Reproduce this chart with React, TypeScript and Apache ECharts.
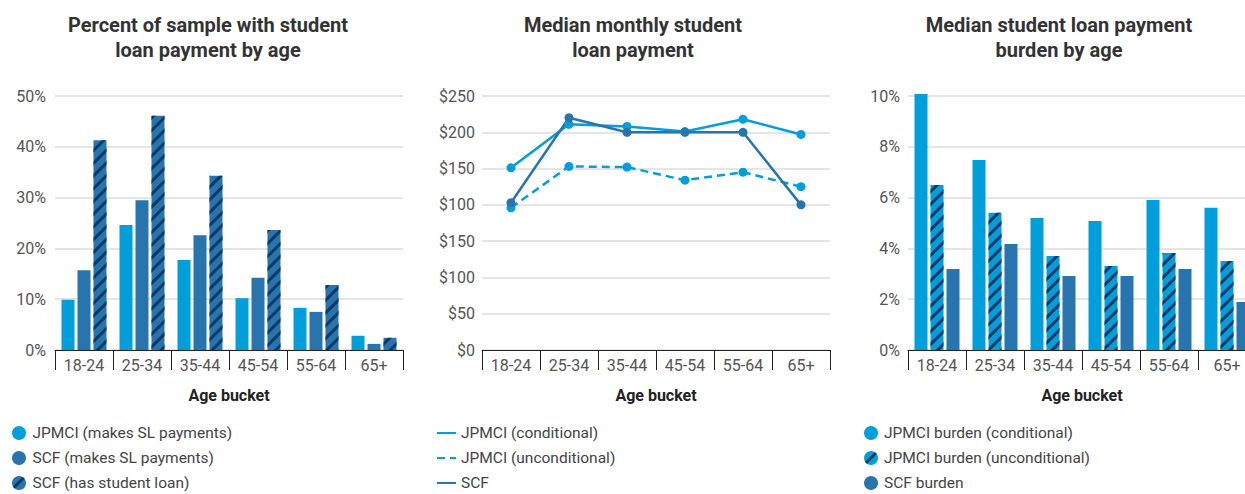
import React, { useEffect, useRef } from "react";
import * as echarts from "echarts";

const categories = ["18-24", "25-34", "35-44", "45-54", "55-64", "65+"];

// Chart 1: percent of sample with student loan payment by age (%)
const jpmciMakes = [9.9, 24.6, 17.7, 10.2, 8.3, 2.8];
const scfMakes = [15.7, 29.5, 22.6, 14.2, 7.5, 1.2];
const scfHas = [41.3, 46.1, 34.3, 23.6, 12.8, 2.4];

// Chart 2: median monthly student loan payment ($, as labelled on the broken axis)
const jpmciConditional = [151, 211, 208, 201, 218, 197];
const jpmciUnconditional = [96, 153, 152, 134, 145, 125];
const scfPayment = [103, 220, 200, 200, 200, 100];
const paymentTickLabels = ["$0", "$50", "$100", "$150", "$100", "$150", "$200", "$250"];
const axisBreakOffset = 100; // the reference axis repeats $100/$150 above the break

// Chart 3: median student loan payment burden by age (%)
const burdenConditional = [10.08, 7.48, 5.2, 5.08, 5.91, 5.6];
const burdenUnconditional = [6.5, 5.4, 3.7, 3.31, 3.82, 3.5];
const scfBurden = [3.19, 4.17, 2.91, 2.91, 3.19, 1.89];

const titles = [
  "Percent of sample with student\nloan payment by age",
  "Median monthly student\nloan payment",
  "Median student loan payment\nburden by age",
];

const LIGHT = "#009fdb";
const DARK = "#2774ae";
const NAVY = "#0b3a66";
const FONT = "Roboto, 'Liberation Sans', sans-serif";

const stripe = {
  symbol: "rect",
  symbolSize: 1,
  color: NAVY,
  dashArrayX: [1, 0],
  dashArrayY: [2.5, 5.5],
  rotation: -Math.PI / 4,
};

export default function App() {
  const ref = useRef<HTMLDivElement>(null);

  useEffect(() => {
    if (!ref.current) return;
    const chart = echarts.init(ref.current, undefined, { renderer: "svg" });

    const gridLefts = [55, 482, 908];
    const grids = gridLefts.map((l) => ({
      left: l, top: 96, width: 348, height: 254, outerBoundsMode: "none", containLabel: false,
    }));

    const xAxes = gridLefts.map((_, i) => ({
      type: "category",
      gridIndex: i,
      data: categories,
      boundaryGap: true,
      axisLine: { show: true, lineStyle: { color: "#222", width: 1 } },
      axisTick: { show: true, length: 20, lineStyle: { color: "#222" } },
      axisLabel: { fontSize: 16, color: "#555", margin: 7, fontFamily: FONT },
      name: "Age bucket",
      nameLocation: "middle",
      nameGap: 37,
      nameTextStyle: { fontSize: 16, fontWeight: "bold", color: "#222", fontFamily: FONT },
    }));

    const ySplit = { show: true, lineStyle: { color: "#dcdcdc", width: 1.5 } };
    const yLabel = { fontSize: 16, color: "#555", fontFamily: FONT };
    const yAxes = [
      {
        type: "value", gridIndex: 0, min: 0, max: 50, interval: 10,
        axisLine: { show: false }, axisTick: { show: false }, splitLine: ySplit,
        axisLabel: { ...yLabel, margin: 9, formatter: "{value}%" },
      },
      {
        type: "value", gridIndex: 1, min: 0, max: 350, interval: 50,
        axisLine: { show: false }, axisTick: { show: false }, splitLine: ySplit,
        axisLabel: { ...yLabel, margin: 7, formatter: (v: number) => paymentTickLabels[Math.round(v / 50)] },
      },
      {
        type: "value", gridIndex: 2, min: 0, max: 10, interval: 2,
        axisLine: { show: false }, axisTick: { show: false }, splitLine: ySplit,
        axisLabel: { ...yLabel, margin: 8, formatter: "{value}%" },
      },
    ];

    const bar = (name: string, data: number[], idx: number, color: string, decal?: any) => ({
      name,
      type: "bar",
      xAxisIndex: idx,
      yAxisIndex: idx,
      data,
      barWidth: 13,
      barGap: "23%",
      clip: false,
      itemStyle: decal ? { color, decal } : { color },
    });

    const line = (name: string, data: number[], color: string, dashed: boolean) => ({
      name,
      type: "line",
      xAxisIndex: 1,
      yAxisIndex: 1,
      data: data.map((v) => v + axisBreakOffset),
      symbol: "circle",
      symbolSize: 9,
      itemStyle: { color },
      lineStyle: { color, width: 2.5, type: dashed ? [8, 5] : "solid" },
    });

    const legendText = { fontSize: 15.5, color: "#444", fontFamily: FONT };
    const legendBase = {
      orient: "vertical", top: 425, height: 120, padding: 0,
      itemHeight: 14, itemGap: 9, textStyle: legendText,
    };

    chart.setOption({
      animation: false,
      textStyle: { fontFamily: FONT },
      title: titles.map((t, i) => ({
        text: t,
        left: [208, 633, 1059][i],
        top: 12,
        padding: 0,
        textAlign: "center",
        textStyle: { fontSize: 20, fontWeight: "bold", color: "#333", lineHeight: 25, fontFamily: FONT },
      })),
      grid: grids,
      xAxis: xAxes,
      yAxis: yAxes,
      legend: [
        {
          ...legendBase,
          data: ["JPMCI (makes SL payments)", "SCF (makes SL payments)", "SCF (has student loan)"],
          left: 12, icon: "circle", itemWidth: 17,
        },
        {
          ...legendBase,
          data: ["JPMCI (conditional)", "JPMCI (unconditional)", "SCF"],
          left: 436, itemWidth: 19,
          itemStyle: { opacity: 0 },
        },
        {
          ...legendBase,
          data: ["JPMCI burden (conditional)", "JPMCI burden (unconditional)", "SCF burden"],
          left: 864, icon: "circle", itemWidth: 16,
        },
      ],
      series: [
        bar("JPMCI (makes SL payments)", jpmciMakes, 0, LIGHT),
        bar("SCF (makes SL payments)", scfMakes, 0, DARK),
        bar("SCF (has student loan)", scfHas, 0, DARK, stripe),
        line("JPMCI (conditional)", jpmciConditional, LIGHT, false),
        line("JPMCI (unconditional)", jpmciUnconditional, LIGHT, true),
        line("SCF", scfPayment, DARK, false),
        bar("JPMCI burden (conditional)", burdenConditional, 2, LIGHT),
        bar("JPMCI burden (unconditional)", burdenUnconditional, 2, LIGHT, stripe),
        bar("SCF burden", scfBurden, 2, DARK),
      ],
    } as any);

    return () => chart.dispose();
  }, []);

  return (
    <div
      ref={ref}
      style={{ position: "fixed", left: 0, top: 0, width: 1245, height: 494, background: "#fff" }}
    />
  );
}
